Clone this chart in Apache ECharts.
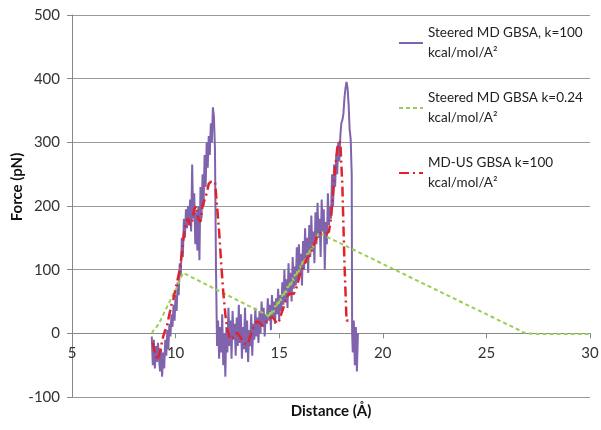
<!DOCTYPE html>
<html>
<head>
<meta charset="utf-8">
<script src="https://cdn.jsdelivr.net/npm/echarts@6/dist/echarts.min.js"></script>
<style>
html,body{margin:0;padding:0;background:#fff;}
#main{width:601px;height:430px;}
</style>
</head>
<body>
<div id="main"></div>
<script>
// axis ranges / ticks
var xRange = [5, 30, 5];
var yRange = [-100, 500, 100];

var seriesNames = ['Steered MD GBSA, k=100', 'Steered MD GBSA k=0.24', 'MD-US GBSA k=100'];
var unitLine = 'kcal/mol/A²';

// Steered MD GBSA, k=100  [distance, force]
var smdK100 = [
  [8.85,-5],[8.9,-50],[8.95,-10],[9.0,-55],[9.05,-20],[9.1,-45],[9.15,-15],[9.2,-40],[9.25,-60],[9.3,-25],
  [9.35,-68],[9.4,-30],[9.45,-55],[9.5,-10],[9.55,-35],[9.6,5],[9.65,-25],[9.7,15],[9.75,-5],[9.8,30],
  [9.85,10],[9.9,45],[9.95,20],[10.0,60],[10.05,35],[10.1,80],[10.15,60],[10.2,110],[10.25,90],[10.3,150],
  [10.35,120],[10.4,180],[10.45,150],[10.5,195],[10.55,165],[10.6,200],[10.65,170],[10.7,210],[10.75,160],[10.8,265],
  [10.85,180],[10.9,220],[10.95,140],[11.0,190],[11.05,130],[11.1,200],[11.15,115],[11.2,230],[11.25,180],[11.3,250],
  [11.35,200],[11.4,280],[11.45,230],[11.5,300],[11.55,260],[11.6,310],[11.65,280],[11.7,330],[11.75,300],[11.8,355],
  [11.85,340],[11.9,290],[11.95,100],[12.0,-20],[12.05,20],[12.1,-40],[12.15,10],[12.2,-30],[12.25,30],[12.3,-50],
  [12.35,0],[12.4,-68],[12.45,10],[12.5,-30],[12.55,40],[12.6,-20],[12.65,20],[12.7,-40],[12.75,35],[12.8,-10],
  [12.85,15],[12.9,-35],[12.95,25],[13.0,-20],[13.05,45],[13.1,-15],[13.15,30],[13.2,-40],[13.25,10],[13.3,-25],
  [13.35,40],[13.4,-30],[13.45,20],[13.5,-45],[13.55,5],[13.6,-20],[13.65,30],[13.7,-35],[13.75,15],[13.8,-10],
  [13.85,40],[13.9,-5],[13.95,25],[14.0,-15],[14.05,35],[14.1,0],[14.15,50],[14.2,10],[14.25,40],[14.3,-5],
  [14.35,30],[14.4,15],[14.45,55],[14.5,20],[14.55,45],[14.6,5],[14.65,60],[14.7,25],[14.75,50],[14.8,15],
  [14.85,55],[14.9,30],[14.95,70],[15.0,20],[15.05,60],[15.1,35],[15.15,80],[15.2,45],[15.25,100],[15.3,50],
  [15.35,85],[15.4,40],[15.45,110],[15.5,60],[15.55,95],[15.6,50],[15.65,120],[15.7,70],[15.75,105],[15.8,75],
  [15.85,135],[15.9,80],[15.95,140],[16.0,90],[16.05,125],[16.1,75],[16.15,145],[16.2,100],[16.25,165],[16.3,110],
  [16.35,150],[16.4,95],[16.45,170],[16.5,120],[16.55,185],[16.6,130],[16.65,160],[16.7,110],[16.75,190],[16.8,140],
  [16.85,205],[16.9,150],[16.95,180],[17.0,120],[17.05,210],[17.1,160],[17.15,195],[17.2,100],[17.25,175],[17.3,140],
  [17.35,220],[17.4,170],[17.45,200],[17.5,180],[17.55,250],[17.6,200],[17.65,265],[17.7,230],[17.75,280],[17.8,250],
  [17.85,300],[17.9,270],[17.95,310],[18.0,330],[18.05,335],[18.1,345],[18.15,370],[18.2,385],[18.25,395],[18.3,385],
  [18.35,360],[18.4,320],[18.45,305],[18.5,250],[18.52,0],[18.55,-30],[18.6,20],[18.65,-50],[18.7,10],[18.75,-60],
  [18.8,0]
];

// Steered MD GBSA k=0.24
var smdK024 = [
  [8.86,0],[8.92,4],[8.98,1],[9.04,8],[9.1,5],[9.16,14],[9.22,11],[9.28,21],[9.34,18],[9.4,29],
  [9.46,26],[9.52,37],[9.58,34],[9.64,45],[9.7,42],[9.76,53],[9.82,50],[9.88,61],[9.94,58],[10.0,68],
  [10.06,66],[10.12,77],[10.18,74],[10.24,86],[10.3,88],[10.36,95],
  [14.45,28],
  [14.5,24],[14.56,33],[14.62,29],[14.68,38],[14.74,33],[14.8,44],[14.86,40],[14.92,50],[14.98,46],[15.04,56],
  [15.1,51],[15.16,62],[15.22,58],[15.28,69],[15.34,64],[15.4,74],[15.46,70],[15.52,80],[15.58,76],[15.64,87],
  [15.7,83],[15.76,93],[15.82,89],[15.88,100],[15.94,96],[16.0,106],[16.06,102],[16.12,113],[16.18,109],[16.24,119],
  [16.3,115],[16.36,126],[16.42,122],[16.48,132],[16.54,128],[16.6,139],[16.66,135],[16.72,145],[16.78,142],[16.84,152],
  [16.9,158],
  [26.9,0],[27.5,-1],[28.5,-1],[30,-1]
];

// MD-US GBSA k=100
var mdusK100 = [
  [8.9,-15],[9.0,-30],[9.1,-42],[9.2,-35],[9.3,-20],[9.4,-5],[9.5,5],[9.6,15],[9.7,30],[9.8,45],
  [9.9,55],[10.0,70],[10.1,85],[10.2,100],[10.3,125],[10.4,155],[10.5,175],[10.6,180],[10.7,170],[10.8,175],
  [10.9,195],[11.0,200],[11.1,180],[11.2,175],[11.3,200],[11.4,210],[11.5,220],[11.6,235],[11.7,238],[11.8,238],
  [11.9,238],[12.0,200],[12.1,160],[12.2,110],[12.3,65],[12.4,30],[12.5,5],[12.6,-5],[12.7,-10],[12.8,-5],
  [12.9,0],[13.0,0],[13.1,-5],[13.2,-10],[13.3,-15],[13.4,-18],[13.5,-15],[13.6,-5],[13.7,5],[13.8,12],
  [13.9,18],[14.0,18],[14.1,15],[14.2,12],[14.3,15],[14.4,20],[14.5,22],[14.6,25],[14.7,25],[14.8,20],
  [14.9,15],[15.0,20],[15.1,30],[15.2,40],[15.3,50],[15.4,58],[15.5,62],[15.6,62],[15.7,62],[15.8,68],
  [15.9,80],[16.0,92],[16.1,100],[16.2,108],[16.3,115],[16.4,120],[16.5,125],[16.6,132],[16.7,142],[16.8,150],
  [16.9,155],[17.0,157],[17.1,157],[17.2,157],[17.3,157],[17.4,160],[17.5,180],[17.6,220],[17.7,260],[17.8,290],
  [17.85,300],[17.95,300],[18.05,230],[18.15,110],[18.25,20],[18.35,20],[18.45,22]
];

var myChart = echarts.init(document.getElementById('main'));
var font = 'Lato, "Open Sans", sans-serif';

// grid: 15..397 px for -100..500, so the zero line sits 1/6 of the height above the bottom
var gridTop = 15, gridBottom = 33;
var zeroOffset = -(430 - gridTop - gridBottom) * (0 - yRange[0]) / (yRange[1] - yRange[0]);

var option = {
  backgroundColor: '#fff',
  animation: false,
  grid: {left: 72, right: 11, top: gridTop, bottom: gridBottom, outerBoundsMode: 'none'},
  legend: {
    orient: 'vertical',
    left: 398,
    top: 13,
    padding: 0,
    itemWidth: 24,
    itemHeight: 14,
    itemGap: 5,
    data: seriesNames,
    itemStyle: {opacity: 0},
    formatter: function (name) {
      return name + '\n' + unitLine;
    },
    textStyle: {
      fontFamily: font, fontSize: 13.5, color: '#222', lineHeight: 20,
      padding: [20, 0, 0, 0]
    }
  },
  graphic: [{
    type: 'text',
    x: 17, y: 187,
    rotation: Math.PI / 2,
    style: {
      text: 'Force (pN)', fontFamily: font, fontSize: 15, fontWeight: 'bold', fill: '#111',
      align: 'center', verticalAlign: 'middle'
    }
  }],
  xAxis: {
    type: 'value',
    position: 'bottom',
    offset: zeroOffset,
    min: xRange[0], max: xRange[1], interval: xRange[2],
    name: 'Distance (Å)',
    nameLocation: 'middle',
    nameGap: 70,
    nameTextStyle: {fontFamily: font, fontSize: 15, fontWeight: 'bold', color: '#111'},
    axisLine: {onZero: false, lineStyle: {color: '#888', width: 1}},
    axisTick: {show: true, length: 5, lineStyle: {color: '#888'}},
    axisLabel: {fontFamily: font, fontSize: 15, color: '#333', margin: 12},
    splitLine: {show: false}
  },
  yAxis: {
    type: 'value',
    min: yRange[0], max: yRange[1], interval: yRange[2],
    axisLine: {show: true, onZero: false, lineStyle: {color: '#888', width: 1}},
    axisTick: {show: true, length: 5, lineStyle: {color: '#888'}},
    axisLabel: {fontFamily: font, fontSize: 15, color: '#333', margin: 12},
    splitLine: {show: true, lineStyle: {color: '#999', width: 1}}
  },
  series: [{
    name: seriesNames[0],
    type: 'line',
    data: smdK100,
    symbol: 'none',
    lineStyle: {color: '#7f63ad', width: 2},
    itemStyle: {color: '#7f63ad'}
  }, {
    name: seriesNames[1],
    type: 'line',
    data: smdK024,
    symbol: 'none',
    lineStyle: {color: '#9ccf4f', width: 2, type: [4, 3]},
    itemStyle: {color: '#9ccf4f'}
  }, {
    name: seriesNames[2],
    type: 'line',
    data: mdusK100,
    symbol: 'none',
    lineStyle: {color: '#e2222a', width: 2.5, type: [10, 4, 2, 4]},
    itemStyle: {color: '#e2222a'}
  }]
};
myChart.setOption(option);
</script>
</body>
</html>
